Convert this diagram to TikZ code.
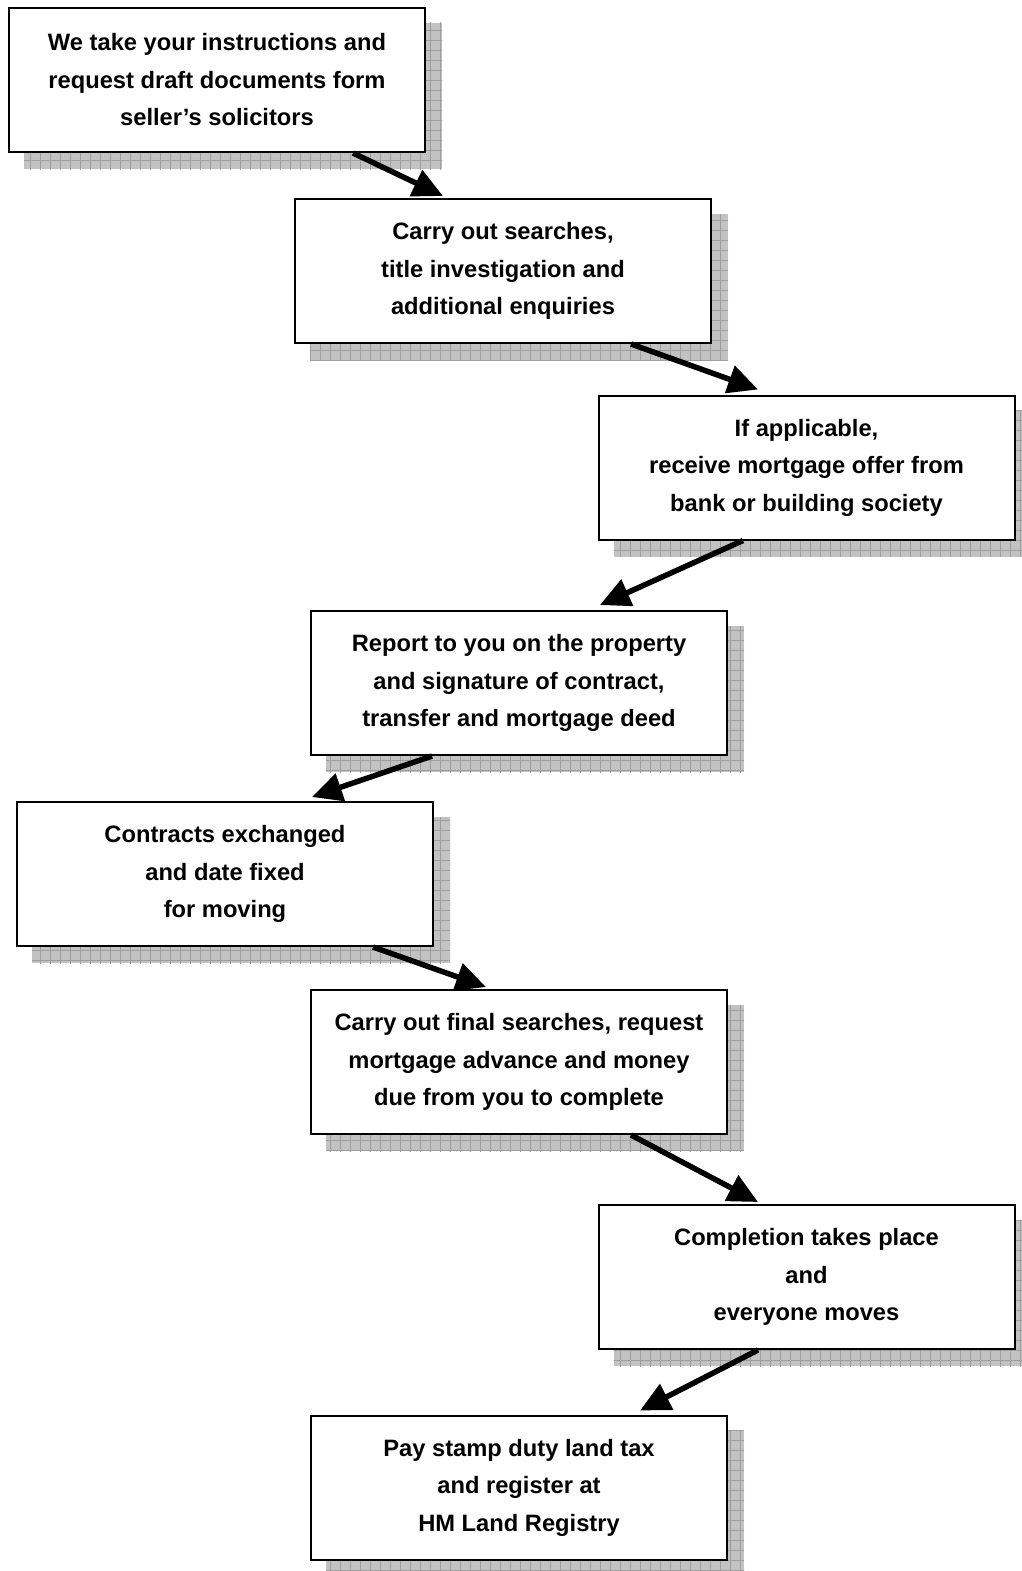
\documentclass[tikz,border=0pt]{standalone}
\usepackage{fontspec}
\setmainfont{Liberation Sans}
\usetikzlibrary{arrows.meta,backgrounds}
\definecolor{shadefill}{gray}{0.76}
\definecolor{shadeline}{gray}{0.62}
\tikzset{
  stepbox/.style={draw=black, line width=2pt, fill=white, minimum width=416pt, minimum height=144pt,
    inner sep=0pt, align=center, font=\bfseries\fontsize{23.7pt}{37.5pt}\selectfont},
  arr/.style={line width=5.5pt, -{Triangle[length=30pt,width=28pt]}}
}
\begin{document}
\begin{tikzpicture}[x=1pt,y=-1pt]
\useasboundingbox (0,0) rectangle (1021,1571);
\node[stepbox] (b1) at (217,80) {We take your instructions and\\request draft documents form\\seller’s solicitors};
\node[stepbox] (b2) at (503,271) {Carry out searches,\\title investigation and\\additional enquiries};
\node[stepbox] (b3) at (806.5,467.5) {If applicable,\\receive mortgage offer from\\bank or building society};
\node[stepbox] (b4) at (519,683) {Report to you on the property\\and signature of contract,\\transfer and mortgage deed};
\node[stepbox] (b5) at (225,874) {Contracts exchanged\\and date fixed\\for moving};
\node[stepbox] (b6) at (519,1062) {Carry out final searches, request\\mortgage advance and money\\due from you to complete};
\node[stepbox] (b7) at (806.5,1277) {Completion takes place\\and\\everyone moves};
\node[stepbox] (b8) at (519,1487.5) {Pay stamp duty land tax\\and register at\\HM Land Registry};
\begin{scope}[on background layer]
\foreach \n in {b1,b2,b3,b4,b5,b6,b7,b8}{
  \begin{scope}
    \clip ([shift={(16,16)}]\n.north west) rectangle ([shift={(16,16)}]\n.south east);
    \fill[shadefill] ([shift={(16,16)}]\n.north west) rectangle ([shift={(16,16)}]\n.south east);
    \draw[shadeline, line width=0.8pt, step=10pt] ([shift={(0,0)}]\n.north west) grid ([shift={(30,30)}]\n.south east);
  \end{scope}
}
\end{scope}
\draw[arr] ([xshift=136pt]b1.south) -- ([xshift=-60pt,yshift=2pt]b2.north);
\draw[arr] ([xshift=128pt]b2.south) -- ([xshift=-48.5pt,yshift=5pt]b3.north);
\draw[arr] ([xshift=-63.5pt]b3.south) -- ([xshift=81pt,yshift=5pt]b4.north);
\draw[arr] ([xshift=-87pt]b4.south) -- ([xshift=87pt,yshift=4pt]b5.north);
\draw[arr] ([xshift=148pt]b5.south) -- ([xshift=-33pt,yshift=2pt]b6.north);
\draw[arr] ([xshift=112pt]b6.south) -- ([xshift=-48.5pt,yshift=2pt]b7.north);
\draw[arr] ([xshift=-48.5pt]b7.south) -- ([xshift=121pt,yshift=4pt]b8.north);
\end{tikzpicture}
\end{document}
